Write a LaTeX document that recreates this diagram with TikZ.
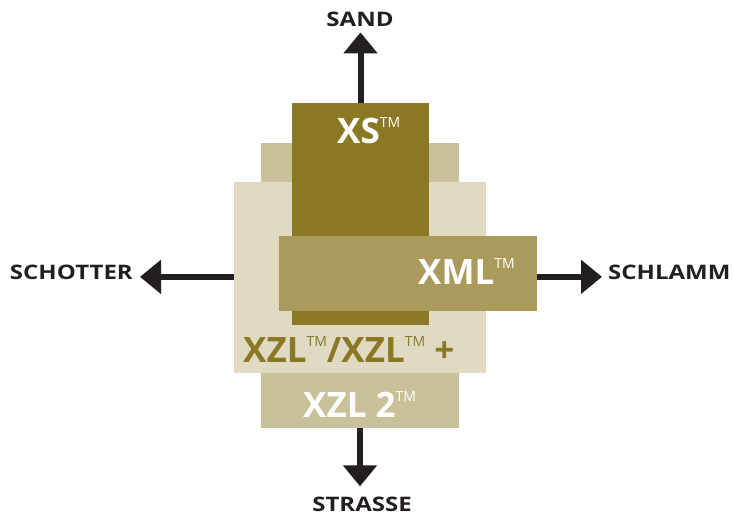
\documentclass[tikz,border=0pt]{standalone}
\usepackage{fontspec}
\setsansfont{Open Sans}
\newfontfamily\placefont[FakeStretch=1.2]{Open Sans}
\usetikzlibrary{arrows.meta}
\definecolor{xsolive}{HTML}{8A7825}
\definecolor{xmlolive}{HTML}{AA9B5C}
\definecolor{xzltan}{HTML}{C9C19A}
\definecolor{xzlpale}{HTML}{E0DAC3}
\definecolor{arrowblack}{HTML}{231F20}
\newcommand{\tm}{\raisebox{16pt}{\fontsize{14}{14}\selectfont\mdseries TM}}

\begin{document}
\begin{tikzpicture}[x=1pt,y=-1pt,
	block/.style={inner sep=0pt,outer sep=0pt,draw=none},
	brand/.style={inner sep=0pt,font=\sffamily\bfseries\fontsize{35}{35}\selectfont},
	place/.style={inner sep=0pt,text=arrowblack,font=\placefont\bfseries\fontsize{20}{20}\selectfont},
	flow/.style={draw=arrowblack,line width=6pt,-{Triangle[width=33pt,length=21pt]}}]
	\useasboundingbox (0,0) rectangle (734,515);
	\node [block,fill=xzltan,minimum width=198pt,minimum height=285pt] (xzltwo) at (360,285.5) {};
	\node [block,fill=xzlpale,minimum width=252pt,minimum height=191pt] (xzl) at (360,277.5) {};
	\node [block,fill=xsolive,minimum width=137pt,minimum height=222pt] (xs) at (360.5,214) {};
	\node [block,fill=xmlolive,minimum width=258pt,minimum height=75pt] (xml) at (408,273.5) {};
	\node [brand,text=white,anchor=base west] (xslabel) at (337,143) {XS\tm};
	\node [brand,text=white,anchor=base west] (xmllabel) at (418,284) {XML\tm};
	\node [brand,text=xsolive,anchor=base west] (xzllabel) at (243,362) {XZL\tm/XZL\tm{} +};
	\node [brand,text=white,anchor=base west] (xzltwolabel) at (303,417) {XZL 2\tm};
	\node [place,anchor=base] (sand) at (360,26) {SAND};
	\node [place,anchor=base east] (schotter) at (133,279) {SCHOTTER};
	\node [place,anchor=base west] (schlamm) at (608,279) {SCHLAMM};
	\node [place,anchor=base] (strasse) at (362,511) {STRASSE};
	\draw [flow,shorten >=6pt] (xs.north) -- (xs.north |- sand.south);
	\draw [flow,shorten >=7pt] (xzl.west |- schotter.mid) -- (schotter.mid east);
	\draw [flow,shorten >=6pt] (xml.east |- schlamm.mid) -- (schlamm.mid west);
	\draw [flow,shorten >=10pt] (xzltwo.south) -- (xzltwo.south |- strasse.north);
\end{tikzpicture}
\end{document}
